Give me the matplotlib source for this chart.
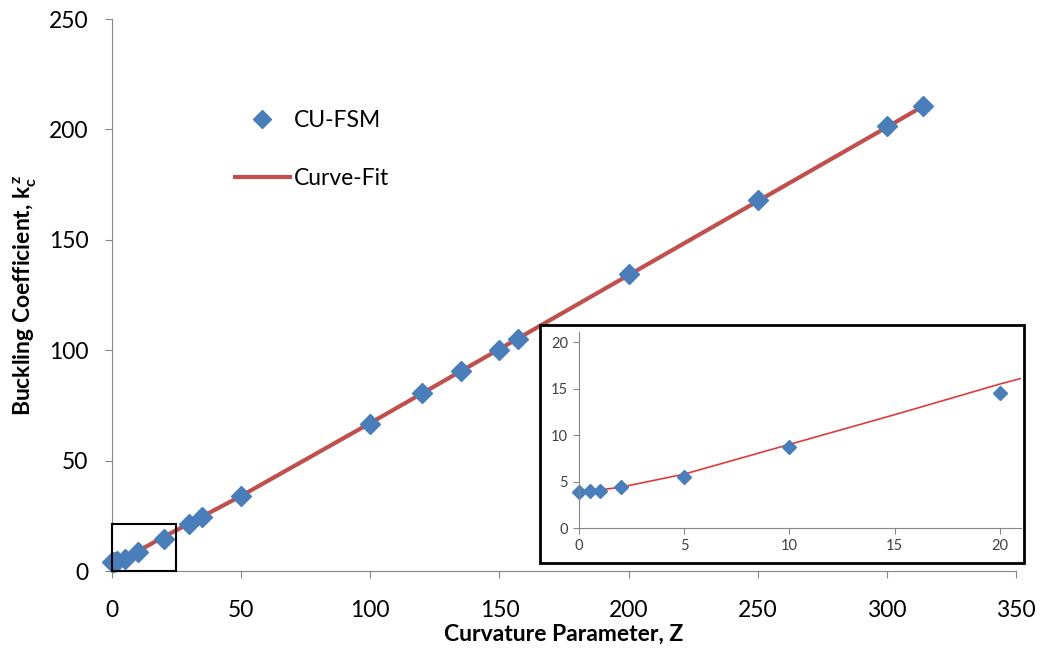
import matplotlib
matplotlib.use("Agg")
import matplotlib.pyplot as plt
from matplotlib.patches import Rectangle

plt.rcParams['font.family'] = ['Lato', 'DejaVu Sans']

# CU-FSM results
z_fsm = [0, 0.5, 1, 2, 5, 10, 20, 30, 35, 50, 100, 120, 135, 150, 157, 200, 250, 300, 314]
k_fsm = [3.9, 4.0, 4.0, 4.4, 5.5, 8.7, 14.5, 21.3, 24.5, 34.0, 66.6, 80.6, 90.6, 100.1,
         105.1, 134.5, 168.0, 201.5, 210.6]

# curve fit
z_fit = [0, 1, 2, 5, 10, 15, 20, 21, 25, 50, 100, 150, 200, 250, 300, 314]
k_fit = [4.0, 4.1, 4.4, 5.8, 9.0, 12.2, 15.5, 16.1, 18.5, 34.0, 67.0, 100.5, 134.0,
         167.5, 201.0, 210.5]

blue = '#4a7ebb'
red = '#c0504d'
grey = '#868686'

fig = plt.figure(figsize=(10.42, 6.52), dpi=100)
ax = fig.add_axes([112/1042, 1 - 571/652, 904/1042, 552/652])

ax.plot(z_fit, k_fit, color=red, lw=3, label='Curve-Fit', zorder=2)
ax.plot(z_fsm, k_fsm, 'D', color=blue, ms=10, ls='none', label='CU-FSM',
        clip_on=False, zorder=3)

ax.set_xlim(0, 350)
ax.set_ylim(0, 250)
ax.set_xticks(range(0, 351, 50))
ax.set_yticks(range(0, 251, 50))
for s in ['top', 'right']:
    ax.spines[s].set_visible(False)
for s in ['left', 'bottom']:
    ax.spines[s].set_color(grey)
ax.tick_params(direction='out', length=5, color=grey, labelsize=16.5)
ax.tick_params(axis='x', pad=16)
ax.tick_params(axis='y', pad=12)
ax.set_xlabel('Curvature Parameter, Z', fontsize=16.5, fontweight='bold', labelpad=2)
ax.set_ylabel(r'Buckling Coefficient, $\mathregular{k_c^{\,z}}$', fontsize=16.5,
              fontweight='bold', labelpad=8)

# zoom region marker
ax.add_patch(Rectangle((0, 0), 24.8, 21.3, fill=False, ec='black', lw=1.5,
                       clip_on=False, zorder=4))

h, l = ax.get_legend_handles_labels()
ax.legend(h[::-1], l[::-1], loc='upper left', bbox_to_anchor=(0.136, 0.835),
          frameon=False, fontsize=16.5, handlelength=2.4, handletextpad=0.15,
          labelspacing=1.6, borderpad=0, borderaxespad=0, markerscale=0.9)

# inset frame
fig.patches.append(Rectangle((540/1042, 1 - 563/652), 484/1042, 238/652,
                             transform=fig.transFigure, fill=True, fc='white',
                             ec='black', lw=2, zorder=5))

ins = fig.add_axes([579/1042, 1 - 528/652, 442/1042, 196/652], zorder=6)
ins.patch.set_alpha(0)
ins.plot(z_fit, k_fit, color='#e03a3a', lw=1.2)
ins.plot(z_fsm, k_fsm, 'D', color=blue, ms=7, ls='none', clip_on=False)
ins.set_xlim(0, 21)
ins.set_ylim(0, 21.1)
ins.set_xticks(range(0, 21, 5))
ins.set_yticks(range(0, 21, 5))
for s in ['top', 'right']:
    ins.spines[s].set_visible(False)
for s in ['left', 'bottom']:
    ins.spines[s].set_color(grey)
ins.tick_params(direction='out', length=4, color=grey, labelsize=10.5,
                labelcolor='#404040', pad=4)

fig.savefig('out.png', dpi=100)
